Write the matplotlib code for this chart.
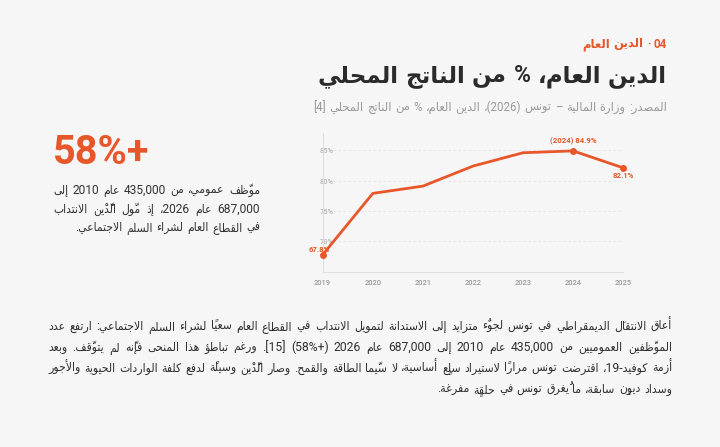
import re
import matplotlib
matplotlib.use('Agg')
import matplotlib.pyplot as plt

# ---- data ----
years = [2019, 2020, 2021, 2022, 2023, 2024, 2025]
debt_pct = [67.8, 77.9, 79.1, 82.4, 84.6, 84.9, 82.1]
labelled = [2019, 2024, 2025]
point_labels = ['67.8%', '(2024) 84.9%', '82.1%']
y_ticks = [70, 75, 80, 85]

kicker = '04 · الدين العام'
title = 'الدين العام، % من الناتج المحلي'
source = 'المصدر: وزارة المالية – تونس (2026)، الدين العام، % من الناتج المحلي [4]'
stat_value = '58%+'
stat_lines = [
    'موظّف عمومي، من 435,000 عام 2010 إلى',
    '687,000 عام 2026، إذ موّل الدَّيْن الانتداب',
    'في القطاع العام لشراء السلم الاجتماعي.',
]
body_lines = [
    'أعاق الانتقالَ الديمقراطي في تونس لجوءٌ متزايد إلى الاستدانة لتمويل الانتداب في القطاع العام سعياً لشراء السلم الاجتماعي: ارتفع عدد',
    'الموظّفين العموميين من 435,000 عام 2010 إلى 687,000 عام 2026 (+58%) [15]. ورغم تباطؤ هذا المنحى فإنّه لم يتوقّف. وبعد',
    'أزمة كوفيد-19، اقترضت تونس مراراً لاستيراد سلعٍ أساسية، لا سيّما الطاقة والقمح. وصار الدَّيْن وسيلةً لدفع كلفة الواردات الحيوية والأجور',
    'وسداد ديونٍ سابقة، ما يُغرق تونس في حلقةٍ مفرغة.',
]

# ---- minimal arabic shaping + rtl ordering ----
DUAL = {'ئ': 0xFE89, 'ب': 0xFE8F, 'ت': 0xFE95, 'ث': 0xFE99, 'ج': 0xFE9D, 'ح': 0xFEA1,
        'خ': 0xFEA5, 'س': 0xFEB1, 'ش': 0xFEB5, 'ص': 0xFEB9, 'ض': 0xFEBD, 'ط': 0xFEC1,
        'ظ': 0xFEC5, 'ع': 0xFEC9, 'غ': 0xFECD, 'ف': 0xFED1, 'ق': 0xFED5, 'ك': 0xFED9,
        'ل': 0xFEDD, 'م': 0xFEE1, 'ن': 0xFEE5, 'ه': 0xFEE9, 'ي': 0xFEF1}
RIGHT = {'آ': 0xFE81, 'أ': 0xFE83, 'ؤ': 0xFE85, 'إ': 0xFE87, 'ا': 0xFE8D, 'ة': 0xFE93,
         'د': 0xFEA9, 'ذ': 0xFEAB, 'ر': 0xFEAD, 'ز': 0xFEAF, 'و': 0xFEED, 'ى': 0xFEEF}
LAM_ALEF = {'آ': 0xFEF5, 'أ': 0xFEF7, 'إ': 0xFEF9, 'ا': 0xFEFB}
MARKS = set(chr(c) for c in range(0x064B, 0x0653)) | {'\u0670'}
MIRROR = {'(': ')', ')': '(', '[': ']', ']': '['}
NUM = re.compile(r'\d+(?:[.,]\d+)*%?')


def joins(c):
    return c in DUAL or c in RIGHT


def shape(word):
    n = len(word)
    out = []
    i = 0
    while i < n:
        c = word[i]
        if c in MARKS or not joins(c):
            out.append(c)
            i += 1
            continue
        j = i - 1
        while j >= 0 and word[j] in MARKS:
            j -= 1
        prev_joins = j >= 0 and word[j] in DUAL
        if c == 'ل':
            k = i + 1
            marks = ''
            while k < n and word[k] in MARKS:
                marks += word[k]
                k += 1
            if k < n and word[k] in LAM_ALEF:
                out.append(chr(LAM_ALEF[word[k]] + (1 if prev_joins else 0)) + marks)
                i = k + 1
                continue
        k = i + 1
        while k < n and word[k] in MARKS:
            k += 1
        next_joins = c in DUAL and k < n and joins(word[k])
        if c in DUAL:
            base = DUAL[c]
            off = 3 if (prev_joins and next_joins) else 1 if prev_joins else 2 if next_joins else 0
        else:
            base = RIGHT[c]
            off = 1 if prev_joins else 0
        out.append(chr(base + off))
        i += 1
    return ''.join(out)


def visual(word):
    s = shape(word)
    tokens = []
    i = 0
    while i < len(s):
        m = NUM.match(s, i)
        if m:
            tokens.append(m.group())
            i = m.end()
            continue
        c = MIRROR.get(s[i], s[i])
        i += 1
        while i < len(s) and s[i] in MARKS:
            c += s[i]
            i += 1
        tokens.append(c)
    return ''.join(reversed(tokens))


# ---- figure ----
W, H, DPI = 720, 447, 100
bg = '#f6f6f6'
orange = '#e8572a'
fam = ['Roboto', 'DejaVu Sans']

fig = plt.figure(figsize=(W / DPI, H / DPI), dpi=DPI)
fig.patch.set_facecolor(bg)
renderer = fig.canvas.get_renderer()


def word_texts(line, size, color, weight, stretch):
    words = [visual(w) for w in line.split(' ')]
    ts = [fig.text(0, 0, w, fontsize=size, color=color, fontweight=weight,
                   fontstretch=stretch, family=fam, ha='right', va='baseline')
          for w in words]
    ws = [t.get_window_extent(renderer).width for t in ts]
    return ts, ws


def natural_width(line, size, weight, stretch):
    ts, ws = word_texts(line, size, 'k', weight, stretch)
    for t in ts:
        t.remove()
    return sum(ws) + size * DPI / 72 * 0.3 * (len(ws) - 1)


def fit(lines, target, weight='normal', stretch='normal'):
    return 10 * target / max(natural_width(l, 10, weight, stretch) for l in lines)


def rtl_block(lines, right, baselines, size, color, weight='normal', width=None,
              stretch='normal'):
    space = size * DPI / 72 * 0.3
    for k, (line, yb) in enumerate(zip(lines, baselines)):
        ts, ws = word_texts(line, size, color, weight, stretch)
        gap = space
        if width is not None and k < len(lines) - 1 and len(ws) > 1:
            gap = (width - sum(ws)) / (len(ws) - 1)
        x = right
        for t, w in zip(ts, ws):
            t.set_position((x / W, 1 - yb / H))
            x -= w + gap


# header
rtl_block([kicker], 667, [47.5], fit([kicker], 85, 'bold'), orange, 'bold')
rtl_block([title], 667, [82], fit([title], 352, 'bold'), '#2b2b2b', 'bold')
rtl_block([source], 667, [111], fit([source], 354), '#9a9a9a')

# left stat
fig.text(53 / W, 1 - 164.5 / H, stat_value, fontsize=28.5, fontweight='bold',
         color=orange, family=fam, ha='left', va='baseline')
cond = 'condensed'
rtl_block(stat_lines, 260, [194, 212.5, 231], fit(stat_lines[:2], 205, stretch=cond),
          '#333333', width=207, stretch=cond)

# body paragraph
rtl_block(body_lines, 672, [330, 351, 372, 393], fit(body_lines[:3], 620, stretch=cond),
          '#2f2f2f', width=624, stretch=cond)

# chart
ax = fig.add_axes([322.7 / W, 1 - 271.7 / H, 300.6 / W, 139 / H])
ax.set_facecolor(bg)
ax.plot(years, debt_pct, color=orange, lw=2, solid_capstyle='round', zorder=3, clip_on=False)
lx = [years.index(y) for y in labelled]
ax.plot(labelled, [debt_pct[i] for i in lx], 'o', color=orange, ms=4, zorder=4, clip_on=False)
offsets = [(-2.5, 3.5), (0, 7), (0, -5.5)]
for y, i, lab, off in zip(labelled, lx, point_labels, offsets):
    ax.annotate(lab, (y, debt_pct[i]), xytext=off, textcoords='offset points',
                ha='center', va='center', fontsize=5.6, fontweight='bold',
                color=orange, family=fam, zorder=5)

ax.set_xlim(2019, 2025)
ax.set_ylim(65, 87.9)
ax.set_xticks(years)
ax.set_xticklabels([str(y) for y in years])
ax.set_yticks(y_ticks)
ax.set_yticklabels([f'{v}%' for v in y_ticks])
for lab in ax.get_yticklabels():
    lab.set_horizontalalignment('left')
ax.tick_params(axis='x', length=0, pad=5, labelsize=5.4, labelcolor='#9b9b9b')
ax.tick_params(axis='y', length=0, pad=2.3, labelsize=5.4, labelcolor='#b8b8b8')
for lab in ax.get_xticklabels() + ax.get_yticklabels():
    lab.set_family(fam)
    lab.set_fontweight('medium')
ax.grid(axis='y', color='#e3e3e3', lw=0.6, ls=(0, (3, 3)))
ax.set_axisbelow(True)
for side in ['top', 'right']:
    ax.spines[side].set_visible(False)
for side in ['left', 'bottom']:
    ax.spines[side].set_color('#e0e0e0')
    ax.spines[side].set_linewidth(0.8)

fig.savefig('out.png', dpi=DPI, facecolor=bg)
